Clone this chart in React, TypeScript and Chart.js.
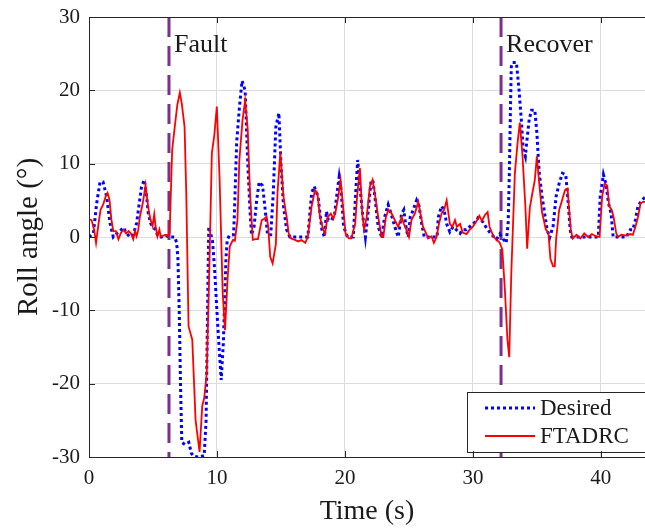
import React, { useEffect, useRef } from "react";
import { Chart, registerables } from "chart.js";

Chart.register(...registerables);

const desiredTime = [
  0, 0.34, 0.6, 0.86, 1.1, 1.38, 1.64, 1.9, 2.2, 2.42,
  2.68, 2.94, 3.2, 3.46, 3.72, 3.93, 4.1, 4.32, 4.5, 4.63,
  4.8, 5.0, 5.2, 5.4, 5.7, 6.0, 6.3, 6.7, 6.85, 6.95,
  7.05, 7.15, 7.25, 7.5, 7.8, 8.0, 8.2, 8.6, 9.0, 9.15,
  9.25, 9.36, 9.5, 9.65, 9.8, 10.06, 10.33, 10.5, 10.58, 10.7,
  10.8, 10.97, 11.3, 11.36, 11.54, 11.75, 11.96, 12.2, 12.4, 12.58,
  12.7, 12.9, 13.1, 13.3, 13.56, 13.77, 13.95, 14.2, 14.4, 14.6,
  14.84, 15.0, 15.2, 15.44, 15.7, 16.5, 17.1, 17.4, 17.6, 17.9,
  18.2, 18.4, 18.56, 18.7, 18.96, 19.2, 19.35, 19.55, 19.7, 19.9,
  20.2, 20.65, 20.9, 21.0, 21.2, 21.4, 21.6, 21.8, 22.05, 22.2,
  22.34, 22.6, 22.87, 23.1, 23.38, 23.6, 23.9, 24.16, 24.43, 24.6,
  24.8, 24.95, 25.1, 25.34, 25.6, 25.8, 26.0, 26.2, 26.8, 27.2,
  27.3, 27.55, 27.75, 27.95, 28.2, 28.45, 28.7, 29.0, 29.2, 29.5,
  29.8, 30.0, 30.3, 30.4, 30.6, 30.8, 31.0, 31.33, 31.6, 31.85,
  32.1, 32.37, 32.6, 32.76, 32.85, 32.94, 33.0, 33.1, 33.4, 33.6,
  33.8, 33.93, 34.1, 34.2, 34.4, 34.58, 34.84, 35.0, 35.18, 35.4,
  35.6, 35.8, 36.0, 36.27, 36.5, 36.74, 37.0, 37.26, 37.45, 37.6,
  37.73, 38.5, 39.2, 39.8, 39.95, 40.2, 40.4, 40.6, 40.8, 40.96,
  41.3, 42.0, 42.3, 42.5, 42.7, 42.9, 43.2, 43.5,
];

const desiredRoll = [
  0, 0.5, 4.6, 7.5, 7.5, 5.5, 1.9, 0, 0.5, 0.8,
  1.3, 0.5, 0, 0.3, 1.9, 4.6, 6.8, 7.8, 5.5, 3.3,
  1.9, 1.3, 1.0, 0, 0, 0.2, 0, 0, -0.8, -3,
  -10, -20, -28, -28.3, -28, -29.5, -29.9, -30, -29.8, -25,
  -12, 1.4, 0.5, -0.5, -4, -12, -19.5, -14.4, -9.8, -3,
  -0.4, 0.2, 0.3, 3, 12.9, 17.6, 21.3, 20, 10.5, 3.7,
  0.3, 1.4, 5, 7.5, 7, 3.7, 0.3, 0.3, 6, 15,
  16.9, 10, 4.2, 1, 0, 0, 0, 6, 6.9, 5.5,
  1, 0, 3.5, 2.3, 2.3, 3.2, 5.5, 8.2, 6.4, 1.4,
  0, 0, 7.8, 10.5, 6.4, 2.8, 0, 3.2, 7.8, 7.5,
  5.5, 1.4, 0, 2.7, 4.4, 3.2, 1.4, 0, 3.2, 3.7,
  1, 0, 2.7, 3.7, 5, 4.2, 1.8, 0, 0, 0,
  2.7, 4.2, 3.7, 1.8, 0.7, 1.4, 1, 0.5, 1, 1,
  1.5, 1.8, 2.2, 2.6, 2.4, 2, 1.4, 0.6, 0.1, -0.3,
  0.4, -0.3, -0.8, 2, 8.8, 17.9, 23.2, 23.8, 23.8, 20.2,
  15.6, 12, 11, 12.8, 16, 17.3, 17.3, 14.2, 8.8, 5.6,
  3.3, 1, -0.1, 1.5, 5.5, 7.3, 8.7, 8.5, 4.6, 1,
  0, 0, 0, 0, 5.5, 8.5, 7.2, 4.6, 3.2, 0,
  0, 0, 1, 1, 2.3, 4.2, 5, 5.5,
];

const ftadrcTime = [
  0, 0.2, 0.4, 0.55, 0.75, 0.9, 1.1, 1.3, 1.45, 1.6,
  1.75, 1.9, 2.1, 2.3, 2.5, 2.7, 2.9, 3.1, 3.3, 3.46,
  3.6, 3.72, 3.85, 3.98, 4.2, 4.42, 4.55, 4.7, 4.8, 4.97,
  5.1, 5.2, 5.35, 5.5, 5.6, 5.8, 6.0, 6.2, 6.3, 6.5,
  6.7, 6.9, 7.1, 7.25, 7.47, 7.6, 7.78, 8.07, 8.33, 8.64,
  8.85, 9.0, 9.2, 9.42, 9.6, 9.8, 9.99, 10.2, 10.45, 10.63,
  10.84, 11.0, 11.25, 11.4, 11.6, 11.75, 12.0, 12.2, 12.4, 12.58,
  12.8, 13.0, 13.2, 13.5, 13.7, 13.88, 14.0, 14.16, 14.35, 14.6,
  14.73, 14.95, 15.2, 15.35, 15.45, 15.6, 15.8, 16.1, 16.35, 16.6,
  16.9, 17.1, 17.4, 17.66, 17.85, 18.05, 18.3, 18.45, 18.64, 18.9,
  19.1, 19.3, 19.48, 19.66, 19.85, 20.05, 20.3, 20.5, 20.8, 20.95,
  21.17, 21.35, 21.5, 21.7, 21.95, 22.16, 22.3, 22.6, 22.87, 23.0,
  23.2, 23.4, 23.65, 23.9, 24.16, 24.43, 24.6, 24.8, 25.0, 25.2,
  25.47, 25.73, 25.9, 26.1, 26.4, 26.5, 26.77, 26.95, 27.16, 27.35,
  27.55, 27.75, 27.95, 28.2, 28.4, 28.6, 28.75, 29.0, 29.2, 29.5,
  29.75, 30.0, 30.3, 30.5, 30.7, 30.94, 31.15, 31.3, 31.6, 31.8,
  32.1, 32.3, 32.5, 32.7, 32.84, 33.0, 33.28, 33.5, 33.67, 33.88,
  34.1, 34.24, 34.45, 34.64, 34.84, 35.0, 35.2, 35.4, 35.7, 35.9,
  36.06, 36.27, 36.4, 36.5, 36.74, 36.9, 37.2, 37.4, 37.5, 37.65,
  37.8, 38.1, 38.4, 38.7, 39.0, 39.3, 39.6, 39.9, 40.1, 40.3,
  40.5, 40.65, 40.85, 41.0, 41.2, 41.35, 41.6, 42.0, 42.3, 42.5,
  42.7, 42.9, 43.1, 43.3, 43.5,
];

const ftadrcRoll = [
  2.4, 2.3, 1, -0.8, 1.9, 3.7, 4.4, 5.5, 6, 5.1,
  2.4, 0.8, 0.8, -0.3, 0.6, 1, 0.5, 0.8, 0.4, -0.3,
  0.8, 0.1, 1, 2.8, 4.6, 7.1, 5.1, 3.3, 2.4, 1.5,
  3.1, 1.5, 0.1, 1, 0.1, 0.2, 0.3, 0.1, 0.5, 11.9,
  15, 18, 19.7, 18.2, 15, 6, -12.2, -14, -25, -29.3,
  -23, -22, -18.6, -3, 11.4, 14, 17.8, 8.2, -7.7, -12.7,
  -5.4, -1.3, -0.4, -0.5, 2.3, 10.5, 16, 18.6, 14.8, 6,
  -0.4, -0.3, -0.3, 2.3, 2.5, 2.8, 1.5, -2.7, -3.6, -1,
  6, 11.5, 5.5, 3.7, 2.7, 0.5, -0.2, -0.4, -0.6, -0.4,
  -0.8, 0, 4.2, 6.4, 6, 2.7, 1, 0.5, 2.7, 3.2,
  2.5, 3.7, 5.5, 7.8, 4.2, 0.5, -0.2, -0.2, 1.8, 5.5,
  9.4, 3.2, 1, 2.7, 6.9, 7.8, 6.4, 2.7, 0, 0,
  2.7, 3.7, 3.2, 2.3, 1.4, 2.7, 1.8, 1, 0, 2.3,
  3.2, 4.8, 3.2, 1.4, 0.3, -0.2, 0.1, -0.8, 0, 1.8,
  3.2, 3.7, 5, 1.8, 1.4, 2.3, 1.4, 1.8, 0.6, 0.4,
  1, 1.4, 2.2, 2.9, 2.2, 3, 3.4, 1.4, 0.1, -0.3,
  -0.8, -1.7, -7.2, -14, -16.4, -5, 8.7, 13, 15.6, 11,
  4.2, -1.6, 4, 5.9, 7.8, 11, 7, 3.4, 1, 0.6,
  -3, -4, -4, -0.4, 3.7, 4.6, 6.4, 6.6, 4.2, 1,
  -0.2, 0.3, -0.2, 0.5, 0, 0.4, 0.1, 0, 5.5, 7.3,
  7, 4.2, 3.7, 2.7, 0.5, 0, 0.3, 0.2, 0.4, 0.3,
  1.4, 2.7, 4.6, 4.8, 4.8,
];

const eventTimes = [6.25, 32.2];
const eventLabels = ["Fault", "Recover"];
const seriesLabels = ["Desired", "FTADRC"];
const xRange = [0, 43.45];
const yRange = [-30, 30];
const tickStep = 10;

const SERIF = "'Liberation Serif', 'Times New Roman', serif";
const TEXT = "#1a1a1a";
const AXIS = "#262626";

const eventPlugin = {
  id: "events",
  beforeDatasetsDraw(chart: any) {
    const { ctx, chartArea, scales } = chart;
    ctx.save();
    eventTimes.forEach((t, i) => {
      const x = scales.x.getPixelForValue(t);
      ctx.beginPath();
      ctx.setLineDash([20, 9]);
      ctx.strokeStyle = "#7E2F8E";
      ctx.lineWidth = 3;
      ctx.moveTo(x, chartArea.top);
      ctx.lineTo(x, chartArea.bottom);
      ctx.stroke();
      ctx.setLineDash([]);
      ctx.fillStyle = TEXT;
      ctx.font = `26px ${SERIF}`;
      ctx.textAlign = "left";
      ctx.textBaseline = "alphabetic";
      ctx.fillText(eventLabels[i], x + 5, chartArea.top + 35);
    });
    ctx.restore();
  },
};

const framePlugin = {
  id: "frame",
  afterDatasetsDraw(chart: any) {
    const { ctx, chartArea } = chart;
    const left = 467;
    const top = 392;
    const bottom = 452;
    ctx.save();
    ctx.fillStyle = "#ffffff";
    ctx.fillRect(left, top, chartArea.right - left + 20, bottom - top);
    ctx.strokeStyle = AXIS;
    ctx.lineWidth = 1;
    ctx.strokeRect(left + 0.5, top + 0.5, chartArea.right - left + 20, bottom - top);
    const rows = [408, 436];
    chart.data.datasets.forEach((ds: any, i: number) => {
      const y = rows[i];
      ctx.beginPath();
      ctx.strokeStyle = ds.borderColor;
      ctx.lineWidth = ds.borderWidth;
      ctx.setLineDash(ds.borderDash || []);
      ctx.moveTo(485, y);
      ctx.lineTo(535, y);
      ctx.stroke();
      ctx.setLineDash([]);
      ctx.fillStyle = TEXT;
      ctx.font = `23px ${SERIF}`;
      ctx.textAlign = "left";
      ctx.textBaseline = "middle";
      ctx.fillText(ds.label, 540, y + 1);
    });
    ctx.restore();
  },
  afterDraw(chart: any) {
    const { ctx, chartArea, scales } = chart;
    const { left, right, top, bottom } = chartArea;
    ctx.save();
    ctx.strokeStyle = AXIS;
    ctx.lineWidth = 1;
    ctx.strokeRect(left + 0.5, top + 0.5, right - left, bottom - top);
    const len = 6;
    ctx.beginPath();
    scales.x.ticks.forEach((t: any) => {
      const x = Math.round(scales.x.getPixelForValue(t.value)) + 0.5;
      ctx.moveTo(x, bottom);
      ctx.lineTo(x, bottom - len);
      ctx.moveTo(x, top);
      ctx.lineTo(x, top + len);
    });
    scales.y.ticks.forEach((t: any) => {
      const y = Math.round(scales.y.getPixelForValue(t.value)) + 0.5;
      ctx.moveTo(left, y);
      ctx.lineTo(left + len, y);
    });
    ctx.stroke();
    ctx.restore();
  },
};

export default function App() {
  const ref = useRef<HTMLCanvasElement | null>(null);

  useEffect(() => {
    if (!ref.current) return;
    const chart = new Chart(ref.current, {
      type: "line",
      data: {
        datasets: [
          {
            label: seriesLabels[0],
            data: desiredTime.map((t, i) => ({ x: t, y: desiredRoll[i] })),
            borderColor: "#0000ff",
            borderWidth: 3,
            borderDash: [3, 3],
            pointRadius: 0,
            tension: 0,
            order: 2,
          },
          {
            label: seriesLabels[1],
            data: ftadrcTime.map((t, i) => ({ x: t, y: ftadrcRoll[i] })),
            borderColor: "#ff0000",
            borderWidth: 1.8,
            pointRadius: 0,
            tension: 0,
            order: 1,
          },
        ],
      },
      options: {
        responsive: false,
        animation: false,
        devicePixelRatio: 1,
        layout: { padding: { top: 17, right: 0, left: 0, bottom: 0 } },
        plugins: { legend: { display: false }, tooltip: { enabled: false } },
        scales: {
          x: {
            type: "linear",
            min: xRange[0],
            max: xRange[1],
            ticks: {
              stepSize: tickStep,
              includeBounds: false,
              autoSkip: false,
              maxRotation: 0,
              color: TEXT,
              font: { family: SERIF, size: 21 },
              padding: 9,
            },
            grid: { color: "#dcdcdc", drawTicks: false },
            border: { display: false },
            title: {
              display: true,
              text: "Time (s)",
              color: TEXT,
              font: { family: SERIF, size: 28 },
              padding: { top: 0, bottom: 2 },
            },
            afterFit: (s: any) => {
              s.height = 73;
              s.paddingLeft = 0;
              s.paddingRight = 0;
            },
          },
          y: {
            type: "linear",
            min: yRange[0],
            max: yRange[1],
            ticks: {
              stepSize: tickStep,
              autoSkip: false,
              color: TEXT,
              font: { family: SERIF, size: 21 },
              padding: 9,
            },
            grid: { color: "#dcdcdc", drawTicks: false },
            border: { display: false },
            title: {
              display: true,
              text: "Roll angle (°)",
              color: TEXT,
              font: { family: SERIF, size: 29 },
              padding: { top: 12, bottom: 0 },
            },
            afterFit: (s: any) => {
              s.width = 89;
              s.paddingTop = 0;
              s.paddingBottom = 0;
            },
          },
        },
      },
      plugins: [eventPlugin, framePlugin],
    });
    return () => chart.destroy();
  }, []);

  return (
    <div style={{ position: "fixed", left: 0, top: 0, width: 645, height: 530, background: "#fff" }}>
      <canvas ref={ref} width={645} height={530} />
    </div>
  );
}
